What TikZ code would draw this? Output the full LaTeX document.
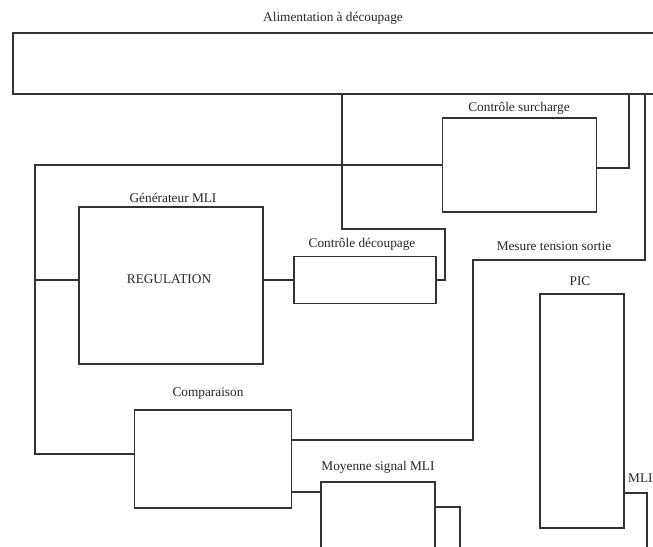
\documentclass[tikz,border=0pt]{standalone}
\usepackage{fontspec}
\setmainfont{Liberation Serif}
\begin{document}
\begin{tikzpicture}[x=1pt,y=-1pt,
  box/.style={draw=black!80, line width=1.1pt, rectangle, inner sep=0pt},
  wire/.style={draw=black!80, line width=1.1pt},
  lbl/.style={font=\fontsize{13.3}{15}\selectfont, text=black!85, inner sep=0pt}]
\clip (0,0) rectangle (653,546);
\fill[white] (0,0) rectangle (653,546);
% boxes
\node[box, minimum width=687pt, minimum height=61pt] (top) at (356.5,63.5) {};
\node[box, minimum width=154pt, minimum height=94pt] (surch) at (519.6,165) {};
\node[box, minimum width=184pt, minimum height=157pt] (gen) at (171,285.5) {};
\node[box, minimum width=142pt, minimum height=47pt] (decoup) at (365,280) {};
\node[box, minimum width=84pt, minimum height=234pt] (pic) at (582,411) {};
\node[box, minimum width=157pt, minimum height=98pt] (comp) at (213,459) {};
\node[box, minimum width=114pt, minimum height=118pt] (moy) at (378,541) {};
% labels
\node[lbl] (tTop) at (333,18) {Alimentation à découpage};
\node[lbl] (tSurch) at (519,108) {Contrôle surcharge};
\node[lbl] (tGen) at (173,198) {Générateur MLI};
\node[lbl] (tReg) at (169,279) {REGULATION};
\node[lbl] (tDec) at (362,244) {Contrôle découpage};
\node[lbl] (tMes) at (554,246) {Mesure tension sortie};
\node[lbl] (tPic) at (580,281) {PIC};
\node[lbl] (tComp) at (208,394) {Comparaison};
\node[lbl] (tMoy) at (378,467) {Moyenne signal MLI};
\node[lbl, anchor=west] (tMli) at (628,478) {MLI};
% helper coordinates
\coordinate (a1) at (342,229);
\coordinate (a2) at (445,280);
\coordinate (b1) at (35,165);
\coordinate (b2) at (35,454);
\coordinate (b3) at (35,280);
\coordinate (c1) at (629,168);
\coordinate (d1) at (645,260);
\coordinate (d2) at (473,440);
\coordinate (e1) at (647,493);
\coordinate (e2) at (647,560);
\coordinate (f1) at (460,507);
\coordinate (f2) at (460,560);
% connectors
\draw[wire] (top.south -| a1) -- (a1) -| (a2) -- (decoup.east);
\draw[wire] (gen.east |- decoup.west) -- (decoup.west);
\draw[wire] (surch.west) -- (b1) -- (b2) -- (comp.west |- b2);
\draw[wire] (b3) -- (gen.west |- b3);
\draw[wire] (surch.east |- c1) -- (c1) -- (top.south -| c1);
\draw[wire] (top.south -| d1) -- (d1) -| (d2) -- (comp.east |- d2);
\draw[wire] (pic.east |- e1) -- (e1) -- (e2);
\draw[wire] (comp.east |- 0,492) -- (moy.west |- 0,492);
\draw[wire] (moy.east |- f1) -- (f1) -- (f2);
\end{tikzpicture}
\end{document}
